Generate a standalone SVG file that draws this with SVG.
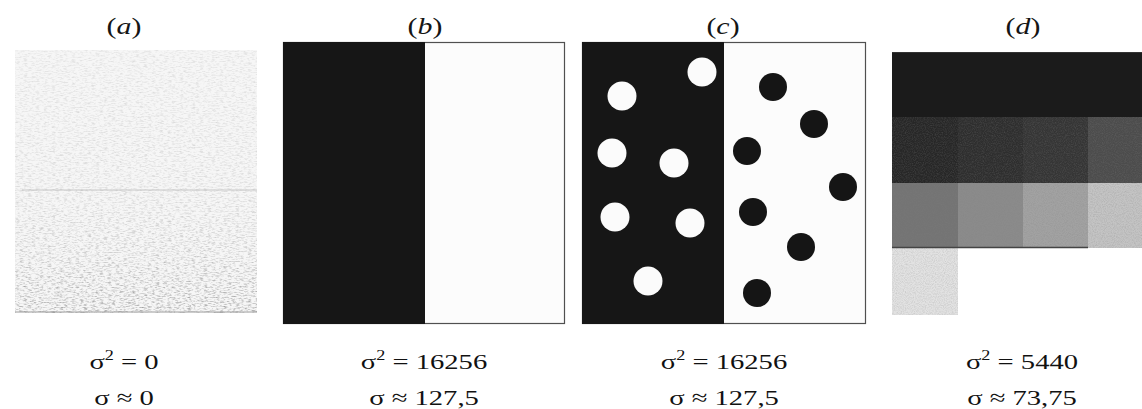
<svg xmlns="http://www.w3.org/2000/svg" width="1142" height="409" viewBox="0 0 1142 409">
<defs>
<style>
.lbl{font-family:"Liberation Serif","Times New Roman",serif;font-size:23px;fill:#151515;text-anchor:middle}
.it{font-style:italic}
.eq{font-family:"Liberation Serif","Times New Roman",serif;font-size:22px;fill:#111;text-anchor:middle}
.sup{font-size:14px}
.dk{fill:#161616}
.wt{fill:#fcfcfc;stroke:#505050;stroke-width:1.2}
.wc{fill:#fbfbfb}
.bc{fill:#151515}
</style>
<filter id="grain" x="0" y="0" width="1" height="1" color-interpolation-filters="sRGB">
<feTurbulence type="fractalNoise" baseFrequency="0.25 0.8" numOctaves="3" seed="4"/>
<feColorMatrix type="matrix" values="0 0 0 0 0.45  0 0 0 0 0.45  0 0 0 0 0.45  1.6 0 0 0 -0.72"/>
</filter>
<filter id="grain2" x="0" y="0" width="1" height="1" color-interpolation-filters="sRGB">
<feTurbulence type="fractalNoise" baseFrequency="0.9" numOctaves="2" seed="7"/>
<feColorMatrix type="matrix" values="0 0 0 0 0.5  0 0 0 0 0.5  0 0 0 0 0.5  1.6 0 0 0 -0.6"/>
</filter>
<linearGradient id="gA" x1="0" y1="0" x2="0" y2="1">
<stop offset="0" stop-color="#fff" stop-opacity="0.25"/>
<stop offset="0.55" stop-color="#fff" stop-opacity="0.35"/>
<stop offset="0.8" stop-color="#fff" stop-opacity="0.6"/>
<stop offset="1" stop-color="#fff" stop-opacity="0.95"/>
</linearGradient>
<mask id="fadeA" maskUnits="userSpaceOnUse" x="15" y="50" width="242" height="263">
<rect x="15" y="50" width="242" height="263" fill="url(#gA)"/>
</mask>
</defs>
<rect width="1142" height="409" fill="#ffffff"/>

<g id="label-a"><text class="lbl" transform="translate(124 34) scale(1.3 1)">(<tspan class="it">a</tspan>)</text></g>
<g id="label-b"><text class="lbl" transform="translate(425 34) scale(1.3 1)">(<tspan class="it">b</tspan>)</text></g>
<g id="label-c"><text class="lbl" transform="translate(723 34) scale(1.3 1)">(<tspan class="it">c</tspan>)</text></g>
<g id="label-d"><text class="lbl" transform="translate(1023 34) scale(1.3 1)">(<tspan class="it">d</tspan>)</text></g>

<g id="panel-a">
<rect x="15" y="50" width="242" height="263" fill="#f6f6f6"/>
<rect x="15" y="50" width="242" height="263" fill="#000" filter="url(#grain)" mask="url(#fadeA)"/>
<line x1="22" y1="190" x2="257" y2="190" stroke="#a8a8a8" stroke-width="1" opacity="0.6"/>
<line x1="15" y1="312" x2="257" y2="312" stroke="#999" stroke-width="1.5" opacity="0.6"/>
</g>

<g id="panel-b">
<rect class="wt" x="283.5" y="42.5" width="281" height="281"/>
<rect class="dk" x="283" y="42" width="142" height="282"/>
</g>

<g id="panel-c">
<rect class="wt" x="582.5" y="42.5" width="283" height="281"/>
<rect class="dk" x="582" y="42" width="142" height="282"/>
<circle class="wc" cx="702" cy="72" r="14.5"/>
<circle class="wc" cx="622" cy="96" r="14.5"/>
<circle class="wc" cx="612" cy="153" r="14.5"/>
<circle class="wc" cx="674" cy="163" r="14.5"/>
<circle class="wc" cx="615" cy="217" r="14.5"/>
<circle class="wc" cx="690" cy="223" r="14.5"/>
<circle class="wc" cx="648" cy="281" r="14.5"/>
<circle class="bc" cx="773" cy="87" r="14"/>
<circle class="bc" cx="814" cy="124" r="14"/>
<circle class="bc" cx="747" cy="151" r="14"/>
<circle class="bc" cx="843" cy="187" r="14"/>
<circle class="bc" cx="753" cy="212" r="14"/>
<circle class="bc" cx="801" cy="247" r="14"/>
<circle class="bc" cx="757" cy="293" r="14"/>
</g>

<g id="panel-d">
<rect x="892" y="52" width="250" height="65" fill="#1b1b1b"/>
<rect x="892" y="117" width="66" height="66" fill="#272727"/>
<rect x="958" y="117" width="65" height="66" fill="#2e2e2e"/>
<rect x="1023" y="117" width="65" height="66" fill="#353535"/>
<rect x="1088" y="117" width="54" height="66" fill="#4c4c4c"/>
<rect x="892" y="183" width="66" height="65" fill="#747474"/>
<rect x="958" y="183" width="65" height="65" fill="#8b8b8b"/>
<rect x="1023" y="183" width="65" height="65" fill="#a2a2a2"/>
<rect x="1088" y="183" width="54" height="65" fill="#c4c4c4"/>
<rect x="892" y="248" width="66" height="67" fill="#e2e2e2"/>
<rect x="892" y="117" width="250" height="131" fill="#000" filter="url(#grain2)" opacity="0.35"/>
<rect x="892" y="248" width="66" height="67" fill="#000" filter="url(#grain2)" opacity="0.3"/>
<line x1="892" y1="52.5" x2="1142" y2="52.5" stroke="#333" stroke-width="1"/>
<line x1="892" y1="247.5" x2="1088" y2="247.5" stroke="#444" stroke-width="1.5"/>
</g>

<g id="eq-a">
<text class="eq" transform="translate(124 369) scale(1.3 1)">σ<tspan class="sup" dy="-9">2</tspan><tspan dy="9"> = 0</tspan></text>
<text class="eq" transform="translate(124 405) scale(1.3 1)">σ ≈ 0</text>
</g>
<g id="eq-b">
<text class="eq" transform="translate(424 369) scale(1.3 1)">σ<tspan class="sup" dy="-9">2</tspan><tspan dy="9"> = 16256</tspan></text>
<text class="eq" transform="translate(424 405) scale(1.3 1)">σ ≈ 127,5</text>
</g>
<g id="eq-c">
<text class="eq" transform="translate(724 369) scale(1.3 1)">σ<tspan class="sup" dy="-9">2</tspan><tspan dy="9"> = 16256</tspan></text>
<text class="eq" transform="translate(724 405) scale(1.3 1)">σ ≈ 127,5</text>
</g>
<g id="eq-d">
<text class="eq" transform="translate(1022 369) scale(1.3 1)">σ<tspan class="sup" dy="-9">2</tspan><tspan dy="9"> = 5440</tspan></text>
<text class="eq" transform="translate(1022 405) scale(1.3 1)">σ ≈ 73,75</text>
</g>
</svg>
